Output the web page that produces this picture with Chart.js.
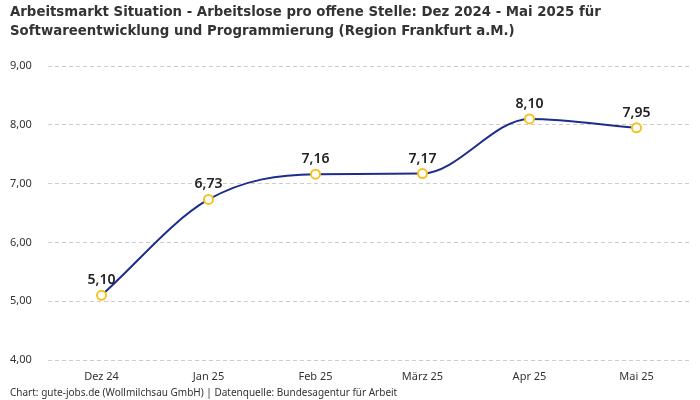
<!DOCTYPE html>
<html><head><meta charset="utf-8">
<script src="https://cdn.jsdelivr.net/npm/chart.js@4"></script>
<style>html,body{margin:0;padding:0;background:#fff}#wrap{width:700px;height:400px}</style>
</head><body><div id="wrap"><canvas id="c"></canvas></div>
<script>
const categories = ['Dez 24','Jan 25','Feb 25','März 25','Apr 25','Mai 25'];
const values = [5.10, 6.73, 7.16, 7.17, 8.10, 7.95];
const yTicks = [4, 5, 6, 7, 8, 9];
const titleLines = ['Arbeitsmarkt Situation - Arbeitslose pro offene Stelle: Dez 2024 - Mai 2025 für','Softwareentwicklung und Programmierung (Region Frankfurt a.M.)'];
const footer = 'Chart: gute-jobs.de (Wollmilchsau GmbH) | Datenquelle: Bundesagentur für Arbeit';

const fmt = v => v.toFixed(2).replace('.', ',');

const labelPlugin = {
  id: 'valueLabels',
  afterDatasetsDraw(chart) {
    const ctx = chart.ctx;
    const meta = chart.getDatasetMeta(0);
    ctx.save();
    ctx.font = '600 14px "Noto Sans", sans-serif';
    ctx.fillStyle = '#222';
    ctx.textAlign = 'center';
    ctx.textBaseline = 'middle';
    meta.data.forEach((pt, i) => {
      ctx.fillText(fmt(values[i]), pt.x, pt.y - 15);
    });
    ctx.restore();
  }
};

new Chart(document.getElementById('c'), {
  type: 'line',
  data: {
    labels: categories,
    datasets: [{
      data: values,
      borderColor: '#1c2d8c',
      borderWidth: 2,
      cubicInterpolationMode: 'monotone',
      pointRadius: 4.5,
      pointBorderWidth: 2,
      pointBackgroundColor: '#ffffff',
      pointBorderColor: '#f6c220',
      fill: false
    }]
  },
  options: {
    responsive: true,
    maintainAspectRatio: false,
    animation: false,
    layout: { padding: { left: 10, right: 10, top: 0, bottom: 0 } },
    plugins: {
      legend: { display: false },
      tooltip: { enabled: false },
      title: {
        display: true,
        text: titleLines,
        align: 'start',
        color: '#333',
        font: { family: "'Liberation Sans Narrow','DejaVu Sans Condensed',sans-serif", size: 14.8, weight: 'bold', lineHeight: 1.25 },
        padding: { top: 3, bottom: 26 }
      },
      subtitle: {
        display: true,
        text: footer,
        position: 'bottom',
        align: 'start',
        color: '#333',
        font: { family: "'Noto Sans',sans-serif", size: 10 },
        padding: { top: 4, bottom: 1 }
      }
    },
    scales: {
      x: {
        offset: true,
        grid: { display: false, drawTicks: false, tickLength: 0 },
        border: { display: false },
        ticks: { color: '#333', font: { family: "'Noto Sans',sans-serif", size: 11 }, padding: 10 },
        afterFit(axis) { axis.height = 23; }
      },
      y: {
        min: 4, max: 9,
        afterBuildTicks(axis) { axis.ticks = yTicks.map(v => ({ value: v })); },
        grid: { color: '#cccccc', drawTicks: false, tickLength: 0, lineWidth: 1 },
        border: { display: false, dash: [4, 3] },
        ticks: {
          color: '#333',
          crossAlign: 'far',
          padding: 2,
          font: { family: "'Noto Sans',sans-serif", size: 11 },
          callback: v => fmt(v)
        },
        afterFit(axis) { axis.width = 38; }
      }
    }
  },
  plugins: [labelPlugin]
});
</script></body></html>
